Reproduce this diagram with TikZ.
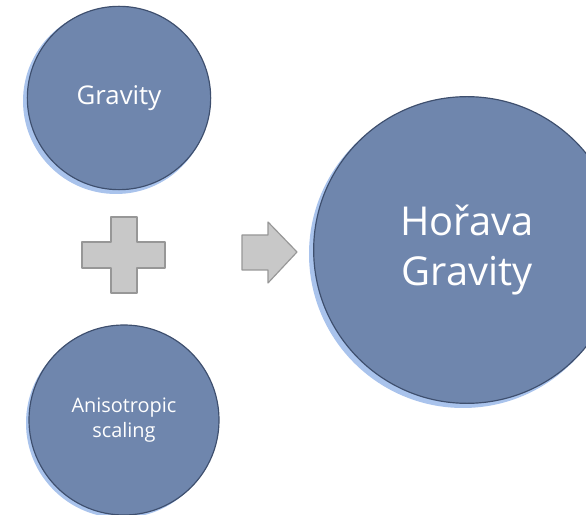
\documentclass[tikz,border=0pt]{standalone}
\usepackage{fontspec}
\newfontfamily\labelfont{Open Sans}
\usetikzlibrary{positioning}
\definecolor{discblue}{HTML}{6F86AD}
\definecolor{rimblue}{HTML}{A9C3EC}
\definecolor{edgeblue}{HTML}{3E4F6E}
\definecolor{signgray}{HTML}{C8C8C8}
\definecolor{signedge}{HTML}{979797}

\begin{document}
\begin{tikzpicture}[
    x=0.03cm, y=-0.03cm,
    disc/.style={circle, fill=discblue, draw=edgeblue, line width=1pt, text=white, align=center, inner sep=0pt},
    rim/.style={fill=rimblue},
    sign/.style={fill=signgray, draw=signedge, line width=1pt, line join=round},
]
\useasboundingbox (0,0) rectangle (586,515);
\clip (0,0) rectangle (586,515);

% light edge under each disc
\fill[rim] (116,101) circle[radius=93];
\fill[rim] (121,423) circle[radius=95];
\fill[rim] (463,254) circle[radius=154];

\node[disc, minimum size=5.5cm, font=\labelfont\fontsize{22}{26}\selectfont] (gravity) at (119,98) {Gravity};
\node[disc, minimum size=5.7cm, font=\labelfont\fontsize{17}{21}\selectfont] (aniso) at (124,420) {Anisotropic\\ scaling};
\node[disc, minimum size=9.2cm, font=\labelfont\fontsize{34}{42}\selectfont] (horava) at (467,250) {Hořava\\ Gravity};

% plus and arrow
\draw[sign] (111,217) -- (137,217) -- (137,242) -- (165,242) -- (165,268) -- (137,268) -- (137,293)
    -- (111,293) -- (111,268) -- (82,268) -- (82,242) -- (111,242) -- cycle;
\draw[sign] (242,235) -- (268,235) -- (268,222) -- (297,252) -- (268,283) -- (268,270) -- (242,270) -- cycle;
\end{tikzpicture}
\end{document}
